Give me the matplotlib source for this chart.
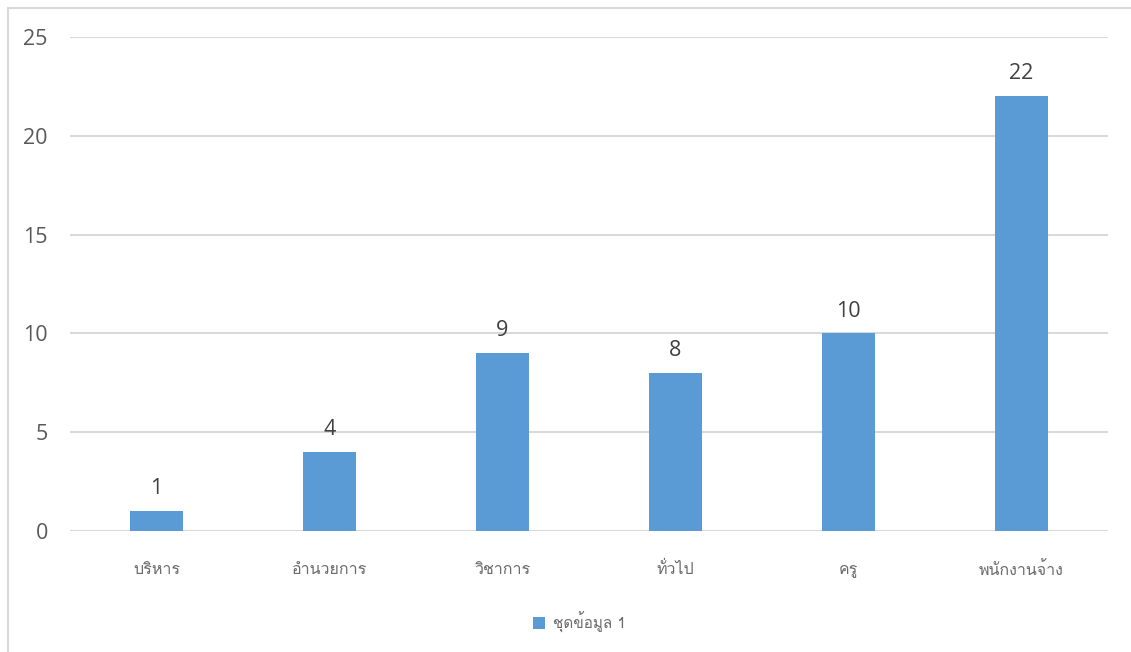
import matplotlib
matplotlib.use("Agg")
import matplotlib.pyplot as plt
from matplotlib import font_manager, ft2font
from matplotlib.lines import Line2D

# หาฟอนต์ที่มีอักษรไทย
thai_fonts = []
for f in font_manager.fontManager.ttflist:
    try:
        cmap = ft2font.FT2Font(f.fname).get_charmap()
    except Exception:
        continue
    if 0x0E01 in cmap and f.name not in thai_fonts:
        thai_fonts.append(f.name)

plt.rcParams['font.family'] = thai_fonts[:1] + ['DejaVu Sans']

categories = ['บริหาร', 'อำนวยการ', 'วิชาการ', 'ทั่วไป', 'ครู', 'พนักงานจ้าง']
values = [1, 4, 9, 8, 10, 22]
series_name = 'ชุดข้อมูล 1'
yticks = [0, 5, 10, 15, 20, 25]

bar_color = '#5b9bd5'
grid_color = '#d9d9d9'
num_font = ['Open Sans', 'DejaVu Sans']

fig = plt.figure(figsize=(11.31, 6.52), dpi=100)
ax = fig.add_axes([0.0619, 0.1856, 0.9178, 0.7577])

x = range(len(categories))
bars = ax.bar(x, values, width=0.31, color=bar_color, zorder=3, label=series_name)
for xi, v in zip(x, values):
    ax.text(xi, v + 0.6, str(v), ha='center', va='bottom', fontsize=15.5,
            color='#404040', family=num_font)

ax.set_xlim(-0.5, len(categories) - 0.5)
ax.set_ylim(0, 25)
ax.set_yticks(yticks)
ax.set_yticklabels([str(t) for t in yticks], fontsize=15.5, color='#595959',
                   family=num_font)
ax.set_xticks(list(x))
ax.set_xticklabels(categories, fontsize=11.5, color='#6b6b6b')
ax.tick_params(axis='both', length=0)
ax.tick_params(axis='y', pad=16)
ax.tick_params(axis='x', pad=22)
ax.grid(axis='y', color=grid_color, linewidth=1.5, zorder=0)
for s in ax.spines.values():
    s.set_visible(False)

leg = fig.legend(handles=[bars], labels=[series_name], loc='center',
                 bbox_to_anchor=(0.512, 0.046), frameon=False, fontsize=11,
                 handlelength=0.8, handleheight=0.8, handletextpad=0.5)
for t in leg.get_texts():
    t.set_color('#6b6b6b')

# กรอบแผนภูมิ (ซ้ายและบน)
fig.add_artist(Line2D([8 / 1131, 8 / 1131], [0, 1 - 8 / 652], color='#d9d9d9', lw=1.5))
fig.add_artist(Line2D([8 / 1131, 1], [1 - 8 / 652, 1 - 8 / 652], color='#d9d9d9', lw=1.5))

fig.savefig('out.png', dpi=100)
